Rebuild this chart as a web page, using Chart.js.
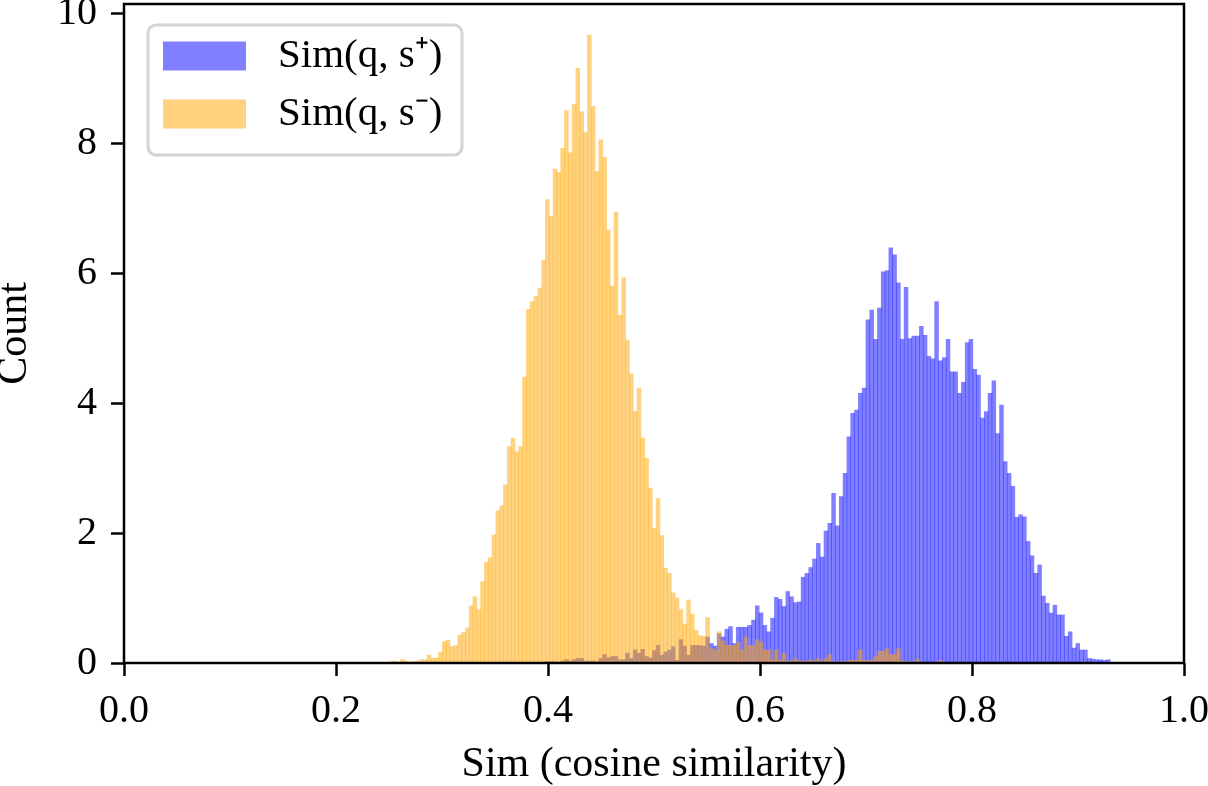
<!DOCTYPE html>
<html lang="en">

<head>
    <meta charset="UTF-8" />
    <title>Sim histogram</title>
    <script src="https://cdn.jsdelivr.net/npm/chart.js"></script>
    <style>
        * {
            margin: 0;
            padding: 0;
            box-sizing: border-box;
        }

        body {
            background: #ffffff;
        }
    </style>
</head>

<body>
    <canvas id="simChart" width="1208" height="786"></canvas>

    <script>
        // histogram bins: common grid, bin k covers [binStart + k*binWidth, binStart + (k+1)*binWidth]
        const binStart = 0.25;
        const binWidth = 0.0036;

        const seriesLabels = ["Sim(q, s\u207A)", "Sim(q, s\u207B)"];
        const xTicks = [0, 0.2, 0.4, 0.6, 0.8, 1.0];
        const yTicks = [0, 2, 4, 6, 8, 10];

        // Sim(q, s+) -- first bin index 41
        const posFirstBin = 41;
        const posCounts = [
            0.02, 0.02, 0.02, 0, 0.03, 0.05, 0.03, 0.05, 0.07, 0.07,
            0.03, 0.03, 0.03, 0.02, 0.07, 0.13, 0.08, 0.1, 0.1, 0.05,
            0.05, 0.15, 0.07, 0.2, 0.15, 0.21, 0.1, 0.08, 0.19, 0.27,
            0.12, 0.17, 0.2, 0.25, 0.04, 0.36, 0.26, 0.12, 0.27, 0.27,
            0.27, 0.26, 0.4, 0.3, 0.26, 0.45, 0.4, 0.52, 0.56, 0.3,
            0.55, 0.55, 0.55, 0.58, 0.66, 0.88, 0.77, 0.58, 0.48, 0.69,
            1.01, 0.98, 0.87, 1.1, 1.02, 0.93, 0.94, 1.32, 1.38, 1.47,
            1.6, 1.84, 1.63, 2.03, 2.15, 2.61, 2.11, 2.56, 2.92, 3.48,
            3.84, 3.89, 4.15, 4.23, 5.28, 5.43, 4.98, 5.46, 6.02, 6.04,
            6.39, 6.28, 5.85, 4.98, 5.78, 4.99, 5.03, 5.03, 5.18, 5.04,
            4.72, 4.68, 5.56, 4.65, 4.7, 4.98, 4.48, 4.48, 4.15, 4.32,
            4.93, 4.98, 4.52, 4.43, 3.77, 3.87, 4.15, 4.34, 3.53, 3.97,
            3.1, 2.92, 2.72, 2.24, 2.28, 2.25, 1.87, 1.65, 1.38, 1.51,
            1.03, 0.92, 0.77, 0.89, 0.74, 0.74, 0.41, 0.48, 0.23, 0.3,
            0.2, 0.2, 0.07, 0.06, 0.05, 0.05, 0.04, 0.05
        ];

        // Sim(q, s-) -- first bin index 0
        const negFirstBin = 0;
        const negCounts = [
            0.02, 0.03, 0, 0.05, 0.03, 0, 0.02, 0.03, 0.05, 0.05,
            0.12, 0.07, 0.08, 0.17, 0.33, 0.35, 0.25, 0.27, 0.43, 0.47,
            0.54, 0.88, 1.02, 0.82, 1.25, 1.55, 1.62, 1.97, 2.34, 2.42,
            2.74, 3.33, 3.46, 3.25, 3.33, 4.4, 5.44, 5.56, 5.64, 5.77,
            6.2, 7.13, 6.87, 7.6, 7.55, 7.92, 8.5, 7.85, 8.6, 9.15,
            8.48, 8.16, 9.66, 8.56, 7.56, 8.05, 7.78, 6.66, 5.8, 6.94,
            5.35, 5.93, 4.97, 4.45, 3.87, 4.23, 3.46, 3.15, 2.69, 2.07,
            2.53, 1.96, 1.46, 1.38, 1.08, 1.0, 0.82, 0.6, 0.97, 0.75,
            0.5, 0.42, 0.41, 0.7, 0.23, 0.2, 0.48, 0.34, 0.27, 0.27,
            0.27, 0.32, 0.2, 0.4, 0.27, 0.27, 0.36, 0.32, 0.2, 0.2,
            0.05, 0.2, 0.04, 0.15, 0.03, 0.03, 0.07, 0.03, 0.03, 0.03,
            0.05, 0.02, 0.07, 0.02, 0.07, 0.13, 0.02, 0.02, 0.02, 0.02,
            0.04, 0.04, 0.04, 0.2, 0.04, 0.04, 0.04, 0.1, 0.18, 0.18,
            0.22, 0.13, 0.13, 0.22, 0.03, 0.02, 0.02, 0.02, 0.06, 0.01,
            0.01, 0.01, 0.01, 0.01, 0.04
        ];

        const blue = "rgba(0, 0, 255, 0.5)";
        const orange = "rgba(255, 165, 0, 0.5)";
        const serif = "'Liberation Serif', 'Times New Roman', serif";

        const toPoints = (counts, first) => counts.map((v, k) => {
            const idx = first + k;
            return { x: binStart + (idx + 0.5) * binWidth, y: v };
        });

        // four spines around the plot area, on top of the bars
        const framePlugin = {
            id: "framePlugin",
            afterDatasetsDraw(chart) {
                const { ctx, chartArea: a } = chart;
                ctx.save();
                ctx.strokeStyle = "#000";
                ctx.lineWidth = 2.5;
                ctx.strokeRect(a.left, a.top, a.right - a.left, a.bottom - a.top);
                ctx.restore();
            }
        };

        // matplotlib-style legend box in the upper left corner
        const legendBoxPlugin = {
            id: "legendBoxPlugin",
            afterDraw(chart) {
                const { ctx, chartArea: a } = chart;
                const bx = a.left + 24, by = a.top + 21, bw = 314, bh = 130, r = 8;
                ctx.save();
                ctx.beginPath();
                ctx.moveTo(bx + r, by);
                ctx.arcTo(bx + bw, by, bx + bw, by + bh, r);
                ctx.arcTo(bx + bw, by + bh, bx, by + bh, r);
                ctx.arcTo(bx, by + bh, bx, by, r);
                ctx.arcTo(bx, by, bx + bw, by, r);
                ctx.closePath();
                ctx.fillStyle = "rgba(255, 255, 255, 0.8)";
                ctx.fill();
                ctx.strokeStyle = "#d4d4d4";
                ctx.lineWidth = 3;
                ctx.stroke();

                ctx.font = "41px " + serif;
                ctx.textBaseline = "middle";
                ctx.textAlign = "left";
                chart.data.datasets.forEach((ds, i) => {
                    const cy = by + 31 + i * 58;
                    ctx.fillStyle = ds.backgroundColor;
                    ctx.fillRect(bx + 15, cy - 14.5, 83, 29);
                    ctx.fillStyle = "#000";
                    ctx.fillText(ds.label, bx + 130, cy);
                });
                ctx.restore();
            }
        };

        const ctx = document.getElementById("simChart").getContext("2d");
        const simChart = new Chart(ctx, {
            type: "bar",
            data: {
                datasets: [
                    {
                        label: seriesLabels[0],
                        data: toPoints(posCounts, posFirstBin),
                        backgroundColor: blue,
                        order: 1
                    },
                    {
                        label: seriesLabels[1],
                        data: toPoints(negCounts, negFirstBin),
                        backgroundColor: orange,
                        order: 0
                    }
                ]
            },
            options: {
                responsive: false,
                animation: false,
                devicePixelRatio: 1,
                grouped: false,
                barPercentage: 1,
                categoryPercentage: 1,
                borderWidth: 0,
                layout: {
                    padding: { top: 4, right: 24, left: 0, bottom: 0 }
                },
                scales: {
                    x: {
                        type: "linear",
                        min: 0,
                        max: 1,
                        offset: false,
                        afterFit(scale) {
                            scale.height = 123;
                            scale.paddingLeft = 0;
                            scale.paddingRight = 0;
                        },
                        afterBuildTicks(scale) {
                            scale.ticks = xTicks.map(v => ({ value: v }));
                        },
                        grid: {
                            offset: false,
                            drawOnChartArea: false,
                            drawTicks: true,
                            tickLength: 13,
                            tickWidth: 2.5,
                            tickColor: "#000"
                        },
                        border: { display: false },
                        ticks: {
                            color: "#000",
                            padding: 11,
                            maxRotation: 0,
                            font: { family: serif, size: 40 },
                            callback: (v) => Number(v).toFixed(1)
                        },
                        title: {
                            display: true,
                            text: "Sim (cosine similarity)",
                            color: "#000",
                            padding: 0,
                            font: { family: serif, size: 42, lineHeight: 1 }
                        }
                    },
                    y: {
                        min: 0,
                        max: 10.14,
                        afterFit(scale) {
                            scale.width = 124;
                            scale.paddingTop = 0;
                            scale.paddingBottom = 0;
                        },
                        afterBuildTicks(scale) {
                            scale.ticks = yTicks.map(v => ({ value: v }));
                        },
                        grid: {
                            drawOnChartArea: false,
                            drawTicks: true,
                            tickLength: 13,
                            tickWidth: 2.5,
                            tickColor: "#000"
                        },
                        border: { display: false },
                        ticks: {
                            color: "#000",
                            padding: 14,
                            font: { family: serif, size: 40 }
                        },
                        title: {
                            display: true,
                            text: "Count",
                            color: "#000",
                            padding: 0,
                            font: { family: serif, size: 42, lineHeight: 0.7 }
                        }
                    }
                },
                plugins: {
                    legend: { display: false },
                    tooltip: { enabled: false }
                }
            },
            plugins: [framePlugin, legendBoxPlugin]
        });
    </script>

</body>

</html>
